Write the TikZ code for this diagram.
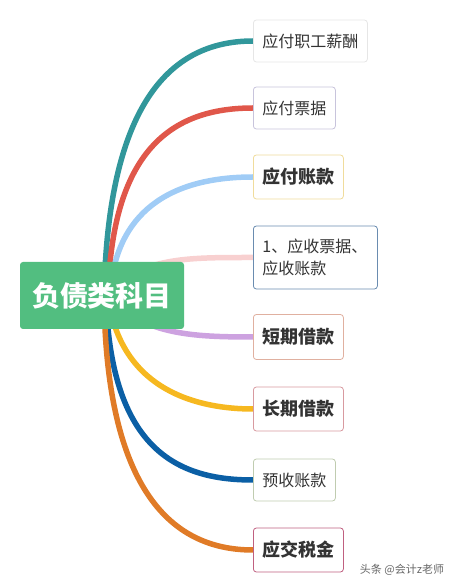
\documentclass[tikz,border=0pt]{standalone}
\usepackage{fontspec}
\newfontfamily\cjk{Noto Sans CJK SC}
\usetikzlibrary{positioning}

\definecolor{rootgreen}{HTML}{52BE80}
\definecolor{txtgray}{HTML}{333333}
\definecolor{cteal}{HTML}{31979B}
\definecolor{cred}{HTML}{E0574A}
\definecolor{cltblue}{HTML}{A0CCF6}
\definecolor{cpink}{HTML}{F8D0D0}
\definecolor{cpurple}{HTML}{CDA2E0}
\definecolor{cyellow}{HTML}{F6B820}
\definecolor{cdkblue}{HTML}{0B5FA5}
\definecolor{corange}{HTML}{E07B27}
% box borders
\definecolor{bgray}{HTML}{E6E6E6}
\definecolor{blilac}{HTML}{C8C4DC}
\definecolor{bsand}{HTML}{F0DC9C}
\definecolor{bsteel}{HTML}{6A8CB0}
\definecolor{bsalmon}{HTML}{E0B0A0}
\definecolor{brose}{HTML}{D89AA0}
\definecolor{bsage}{HTML}{C0CCB0}
\definecolor{bcrimson}{HTML}{C06080}

\pgfdeclarelayer{back}
\pgfsetlayers{back,main}

\tikzset{
  rootbox/.style={fill=rootgreen, rounded corners=3pt, text=white,
    font=\cjk\bfseries\fontsize{28}{30}\selectfont,
    minimum width=164pt, minimum height=67pt, inner sep=0pt},
  leaf/.style={draw=#1, fill=white, rounded corners=3pt, anchor=west,
    text=txtgray, font=\cjk\fontsize{16}{22}\selectfont,
    inner xsep=9pt, minimum height=42pt, line width=0.8pt},
  bigleaf/.style={leaf=#1, font=\cjk\bfseries\fontsize{18}{22}\selectfont,
    minimum height=44pt},
  branch/.style={draw=#1, line width=5.5pt}
}

\begin{document}
\begin{tikzpicture}[x=1pt, y=1pt]
\useasboundingbox (0,0) rectangle (456,582);

% root
\node[rootbox] (root) at (102,286.5) {负债类科目};

% leaf boxes
\node[leaf=bgray] (zgxc) at (253,541) {应付职工薪酬};
\node[leaf=blilac] (yfpj) at (253,474) {应付票据};
\node[bigleaf=bsand] (yfzk) at (253,405) {应付账款};
\node[leaf=bsteel, align=left, minimum height=63pt,
  text width=106pt] (yspj) at (253,324.5) {1、应收票据、\\应收账款};
\node[bigleaf=bsalmon, minimum height=45pt] (dqjk) at (253,245) {短期借款};
\node[bigleaf=brose] (cqjk) at (253,173) {长期借款};
\node[leaf=bsage] (yszk) at (253,102) {预收账款};
\node[bigleaf=bcrimson] (yjsj) at (253,32) {应交税金};

% branches from the root
\begin{pgfonlayer}{back}
\draw[branch=cteal]   (root.center) ++(2,0) .. controls (108,470) and (165,541) .. (zgxc.west);
\draw[branch=cred]    (root.center) ++(6,0) .. controls (112,430) and (170,474) .. (yfpj.west);
\draw[branch=cltblue] (root.center) ++(8,0) .. controls (115,370) and (170,405) .. (yfzk.west);
\draw[branch=cpink]   (root.center) ++(8,8) .. controls (150,325) and (190,324.5) .. (yspj.west);
\draw[branch=cpurple] (root.center) ++(8,-6) .. controls (150,248) and (190,245) .. (dqjk.west);
\draw[branch=cyellow] (root.center) ++(6,0) .. controls (120,190) and (200,173) .. (cqjk.west);
\draw[branch=cdkblue] (root.center) ++(4,0) .. controls (110,130) and (180,102) .. (yszk.west);
\draw[branch=corange] (root.center) ++(2,0) .. controls (106,80) and (180,32) .. (yjsj.west);
\end{pgfonlayer}

% watermark
\node[font=\cjk\fontsize{11}{12}\selectfont, text=black!60] (mark) at (402,12) {头条 @会计z老师};
\end{tikzpicture}
\end{document}
